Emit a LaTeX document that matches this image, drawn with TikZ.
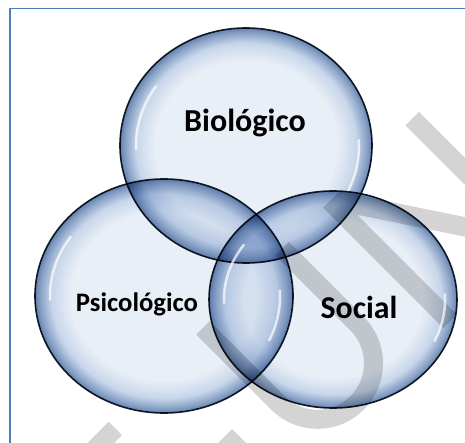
\documentclass[tikz,border=0pt]{standalone}
\usepackage{fontspec}
\setmainfont{Carlito}
\usepackage{tikz}
\usetikzlibrary{shapes.geometric}
\usetikzlibrary{positioning}

\definecolor{bubin}{HTML}{E9EFF7}
\definecolor{bubmid}{HTML}{C8D6EA}
\definecolor{bubedge}{HTML}{88A1C6}
\definecolor{bubdark}{HTML}{6682AD}
\definecolor{rimline}{HTML}{16202E}
\definecolor{frameblue}{HTML}{4A7EBB}
\definecolor{wmark}{HTML}{D4D4D4}

% the middle 50bp square of a shading is fitted to the path, so the rim sits at 25bp
\pgfdeclareradialshading{glass}{\pgfpoint{0bp}{0bp}}{%
  color(0bp)=(bubin); color(18bp)=(bubin); color(21.8bp)=(bubmid);
  color(24bp)=(bubedge); color(25bp)=(bubdark); color(50bp)=(bubdark)}

\tikzset{
  bubble/.style={ellipse, draw=rimline, line width=1.6pt, shading=glass,
    inner sep=0pt, outer sep=0pt},
  shine/.style={draw=white, line width=2.5pt, line cap=round, opacity=0.7},
  wmstroke/.style={draw=wmark, line width=19pt},
  lbl/.style={font=\bfseries, anchor=base, inner sep=0pt}
}

\begin{document}
\begin{tikzpicture}[x=1pt, y=-1pt]
    \useasboundingbox (0,0) rectangle (465,443);
    \clip (0,0) rectangle (465,443);
    \fill[white] (0,0) rectangle (465,443);

    % frame
    \draw[frameblue, line width=2pt] (10,443) -- (10,8.5);
    \draw[frameblue, line width=1.2pt] (9,8.5) -- (465,8.5);

    \begin{scope}[blend mode=multiply]
      % the three bubbles
      \node[bubble, minimum width=252pt, minimum height=235pt] (bio) at (246,145.5) {};
      \node[bubble, minimum width=258pt, minimum height=234pt] (psi) at (164,296) {};
      \node[bubble, minimum width=248pt, minimum height=217pt] (soc) at (333,299.5) {};

      % watermark letters
      \begin{scope}[shift={(323.2,448.2)}, x={(0.7071pt,0.7071pt)}, y={(-0.7071pt,0.7071pt)}]
        \draw[wmstroke] (0,170) -- (0,64) arc[start angle=180, end angle=360, radius=56] -- (112,170);
        \fill[wmark] (170,0) -- (170,170) -- (193,170) -- (286.5,28.7) -- (286.5,170)
          -- (305.5,170) -- (305.5,0) -- (282.5,0) -- (189,141.3) -- (189,0) -- cycle;
        \draw[wmstroke] (-133,161) -- (-250,161);
      \end{scope}
      \fill[wmark] (232,429) -- (246,443) -- (218,443) -- cycle;
    \end{scope}

    % highlights
    \draw[shine] ([shift={(145:110pt and 103pt)}]bio.center) arc[start angle=145, end angle=182, x radius=110pt, y radius=103pt];
    \draw[shine] ([shift={(-25:113pt and 106pt)}]bio.center) arc[start angle=-25, end angle=3, x radius=113pt, y radius=106pt];
    \draw[shine] ([shift={(145:114pt and 103pt)}]psi.center) arc[start angle=145, end angle=182, x radius=114pt, y radius=103pt];
    \draw[shine] ([shift={(-25:116pt and 105pt)}]psi.center) arc[start angle=-25, end angle=3, x radius=116pt, y radius=105pt];
    \draw[shine] ([shift={(145:109pt and 95pt)}]soc.center) arc[start angle=145, end angle=182, x radius=109pt, y radius=95pt];
    \draw[shine] ([shift={(-25:112pt and 98pt)}]soc.center) arc[start angle=-25, end angle=3, x radius=112pt, y radius=98pt];

    % labels
    \node[lbl, font=\bfseries\fontsize{32}{32}\selectfont] (biotxt) at (245,132) {Biológico};
    \node[lbl, font=\bfseries\fontsize{26.7}{27}\selectfont] (psitxt) at (137,311) {Psicológico};
    \node[lbl, font=\bfseries\fontsize{31.8}{32}\selectfont] (soctxt) at (359,318) {Social};
\end{tikzpicture}
\end{document}
